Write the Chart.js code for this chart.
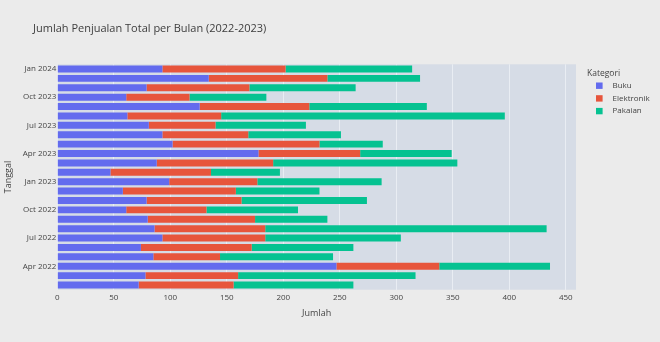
<!DOCTYPE html>
<html><head><meta charset="utf-8">
<script src="https://cdn.jsdelivr.net/npm/chart.js@4"></script>
<style>html,body{margin:0;padding:0;background:#ebebeb;overflow:hidden}</style>
</head><body>
<canvas id="c" width="660" height="342"></canvas>
<script>
const categories = ["2022-01-31","2022-02-28","2022-03-31","2022-04-30","2022-05-31","2022-06-30",
  "2022-07-31","2022-08-31","2022-09-30","2022-10-31","2022-11-30","2022-12-31",
  "2023-01-31","2023-02-28","2023-03-31","2023-04-30","2023-05-31","2023-06-30",
  "2023-07-31","2023-08-31","2023-09-30","2023-10-31","2023-11-30","2023-12-31"];
const tickLabels = ["","","Apr 2022","","","Jul 2022","","","Oct 2022","","","Jan 2023",
  "","","Apr 2023","","","Jul 2023","","","Oct 2023","","","Jan 2024"];
const buku       = [72, 78, 247, 85, 74, 93, 86, 80, 61, 79, 58, 99, 47, 88, 178, 102, 93, 81, 62, 126, 61, 79, 134, 93];
const elektronik = [84, 82, 91, 59, 98, 91, 98, 95, 71, 84, 100, 78, 89, 103, 90, 130, 76, 59, 83, 97, 56, 91, 105, 109];
const pakaian    = [106, 157, 98, 100, 90, 120, 249, 64, 81, 111, 74, 110, 61, 163, 81, 56, 82, 80, 251, 104, 68, 94, 82, 112];
const seriesNames = ["Buku", "Elektronik", "Pakaian"];
const seriesColors = ["#636bee", "#e7553c", "#05c291"];
const xTickValues = [0, 50, 100, 150, 200, 250, 300, 350, 400, 450];
const titleText = "Jumlah Penjualan Total per Bulan (2022-2023)";
const xTitle = "Jumlah";
const yTitle = "Tanggal";
const legendTitle = "Kategori";

const FONT = '"Open Sans", "DejaVu Sans", sans-serif';

const deco = {
  id: 'deco',
  beforeDraw(chart) {
    const {ctx, chartArea: a} = chart;
    ctx.save();
    ctx.fillStyle = '#ebebeb';
    ctx.fillRect(0, 0, chart.width, chart.height);
    ctx.fillStyle = '#d6dce6';
    ctx.fillRect(a.left, a.top, a.right - a.left, a.bottom - a.top);
    ctx.restore();
  },
  afterDraw(chart) {
    const {ctx, chartArea: a} = chart;
    ctx.save();
    ctx.fillStyle = '#3d3d3d';
    ctx.font = '11px ' + FONT;
    ctx.textAlign = 'left';
    ctx.textBaseline = 'alphabetic';
    ctx.fillText(titleText, 33, 31.5);

    ctx.fillStyle = '#444';
    ctx.font = '9px ' + FONT;
    ctx.textAlign = 'center';
    ctx.textBaseline = 'middle';
    ctx.fillText(xTitle, (a.left + a.right) / 2, 313);
    ctx.save();
    ctx.translate(8, (a.top + a.bottom) / 2);
    ctx.rotate(-Math.PI / 2);
    ctx.fillText(yTitle, 0, 0);
    ctx.restore();

    // legend
    ctx.textAlign = 'left';
    ctx.font = '8.5px ' + FONT;
    ctx.fillText(legendTitle, 587, 73.5);
    ctx.font = '8px ' + FONT;
    chart.data.datasets.forEach((ds, i) => {
      const y = 85.7 + i * 12.7;
      ctx.fillStyle = ds.backgroundColor;
      ctx.fillRect(596, y - 3.2, 6.6, 6.4);
      ctx.fillStyle = '#444';
      ctx.fillText(ds.label, 612.5, y);
    });
    ctx.restore();
  }
};

const values = [buku, elektronik, pakaian];
new Chart(document.getElementById('c'), {
  type: 'bar',
  data: {
    labels: categories,
    datasets: seriesNames.map((n, i) => ({
      label: n,
      data: values[i],
      backgroundColor: seriesColors[i],
      borderWidth: 0,
      categoryPercentage: 0.74,
      barPercentage: 1
    }))
  },
  options: {
    indexAxis: 'y',
    responsive: false,
    devicePixelRatio: 1,
    animation: false,
    layout: { padding: { left: 0, right: 84, top: 64.3, bottom: 0 } },
    plugins: { legend: { display: false }, title: { display: false }, tooltip: { enabled: false } },
    scales: {
      x: {
        stacked: true,
        min: 0, max: 459,
        afterBuildTicks: s => { s.ticks = xTickValues.map(v => ({ value: v })); },
        afterFit: s => { s.height = 52.3; },
        grid: { color: '#e9edf3', lineWidth: 1, drawTicks: false },
        border: { display: false },
        ticks: { font: { size: 8, family: FONT }, color: '#444', padding: 3, maxRotation: 0 }
      },
      y: {
        stacked: true,
        reverse: true,
        afterFit: s => { s.width = 57.3; },
        grid: { display: false, drawTicks: false },
        border: { display: false },
        ticks: {
          autoSkip: false,
          font: { size: 8, family: FONT }, color: '#444', padding: 1,
          callback: (v, i) => tickLabels[i]
        }
      }
    }
  },
  plugins: [deco]
});
</script>
</body></html>
